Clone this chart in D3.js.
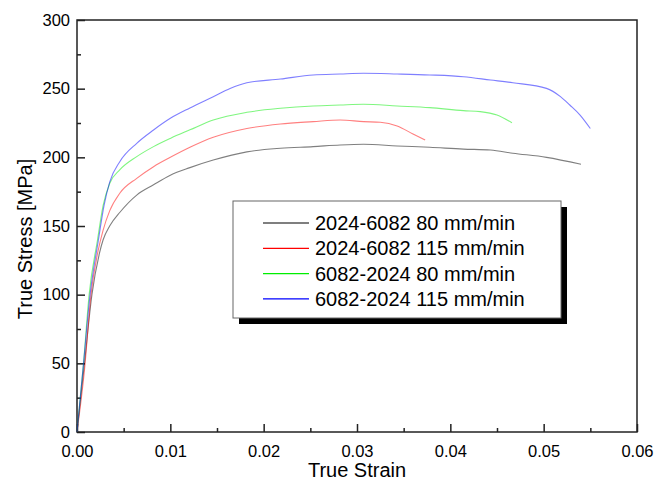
<!DOCTYPE html>
<html>
<head>
<meta charset="utf-8">
<script src="https://cdn.jsdelivr.net/npm/d3@7"></script>
<style>
  body { margin: 0; background: #fff; }
  text { font-family: "Liberation Sans", Arial, sans-serif; fill: #000; }
</style>
</head>
<body>
<svg id="chart" width="670" height="481"></svg>
<script>
'use strict'

// series names and colours
var names = ["2024-6082 80 mm/min", "2024-6082 115 mm/min", "6082-2024 80 mm/min", "6082-2024 115 mm/min"];
var colors = ["#000000", "#ff0000", "#00ee00", "#0000ff"];

// [strain, stress MPa]
var black80 = [[0,0],[0.0008,50],[0.0016,100],[0.0024,130],[0.0028,140],[0.0035,150],[0.0046,160],[0.0064,172.5],
  [0.0082,180],[0.0100,187],[0.0121,192.5],[0.0146,198],[0.0182,204],[0.0218,206.6],[0.0253,207.8],[0.0282,209],
  [0.0307,209.5],[0.0343,208.3],[0.0378,207.3],[0.0414,206],[0.0443,205.3],[0.0467,203],[0.0503,200],[0.0540,195]];
var red115 = [[0,0],[0.0008,45],[0.0015,100],[0.0022,130],[0.0028,147],[0.0035,161],[0.0046,174],[0.0064,184.7],
  [0.0082,193.2],[0.0100,200],[0.0121,207.3],[0.0146,214.6],[0.0182,221],[0.0218,224.3],[0.0253,226],[0.0282,227.2],
  [0.0307,226],[0.0325,225.5],[0.0343,222.8],[0.0360,217],[0.0373,212.6]];
var green80 = [[0,0],[0.0007,50],[0.0013,100],[0.0022,140],[0.0028,165],[0.0035,181],[0.0046,191],[0.0064,200.5],
  [0.0082,207.8],[0.0100,213.8],[0.0121,220],[0.0146,227.2],[0.0182,232.8],[0.0218,235.7],[0.0253,237.4],[0.0282,238.1],
  [0.0307,238.6],[0.0343,237.4],[0.0378,236.2],[0.0414,234],[0.0432,233.3],[0.0450,230.8],[0.0466,225.2]];
var blue115 = [[0,0],[0.0007,50],[0.0014,100],[0.0023,140],[0.0029,165],[0.0035,182],[0.0046,197],[0.0064,210.2],
  [0.0082,219.9],[0.0100,228.4],[0.0121,236],[0.0146,244.2],[0.0164,250.2],[0.0182,254.3],[0.0218,257],[0.0253,260],
  [0.0282,260.7],[0.0307,261.2],[0.0343,260.7],[0.0378,260],[0.0414,258.7],[0.0443,256.3],[0.0467,254.3],
  [0.0503,250.2],[0.0518,244.2],[0.0528,238.1],[0.0539,230.8],[0.0550,221]];
var series = [black80, red115, green80, blue115];

var xTicks = [0, 0.01, 0.02, 0.03, 0.04, 0.05, 0.06];
var yTicks = [0, 50, 100, 150, 200, 250, 300];

var margin = {left: 77, right: 33, top: 20, bottom: 49},
    width = 670 - margin.left - margin.right,
    height = 481 - margin.top - margin.bottom;

var svg = d3.select("#chart");
var g = svg.append("g").attr("transform", "translate(" + margin.left + "," + margin.top + ")");

var x = d3.scaleLinear().domain([0, 0.06]).range([0, width]);
var y = d3.scaleLinear().domain([0, 300]).range([height, 0]);

// minor ticks
var xMinor = d3.range(0.005, 0.06, 0.01);
var yMinor = d3.range(25, 300, 50);

g.append("g")
    .attr("transform", "translate(0," + height + ")")
    .call(d3.axisBottom(x).tickValues(xMinor).tickSize(-4).tickFormat(""))
    .call(a => a.select(".domain").remove())
    .selectAll("line").attr("stroke", "#222").attr("stroke-width", 1.5);

g.append("g")
    .call(d3.axisLeft(y).tickValues(yMinor).tickSize(-4).tickFormat(""))
    .call(a => a.select(".domain").remove())
    .selectAll("line").attr("stroke", "#222").attr("stroke-width", 1.5);

var xAxis = g.append("g")
    .attr("transform", "translate(0," + height + ")")
    .call(d3.axisBottom(x).tickValues(xTicks).tickSize(-8).tickPadding(13).tickFormat(d3.format(".2f")));
xAxis.select(".domain").remove();
xAxis.selectAll("line").attr("stroke", "#222").attr("stroke-width", 1.5);
xAxis.selectAll("text").attr("font-size", 16.5).attr("font-family", "Liberation Sans, Arial, sans-serif").attr("fill", "#000");

var yAxis = g.append("g")
    .call(d3.axisLeft(y).tickValues(yTicks).tickSize(-8).tickPadding(7).tickFormat(d3.format("d")));
yAxis.select(".domain").remove();
yAxis.selectAll("line").attr("stroke", "#222").attr("stroke-width", 1.5);
yAxis.selectAll("text").attr("font-size", 16.5).attr("font-family", "Liberation Sans, Arial, sans-serif").attr("fill", "#000");

// frame
g.append("rect")
    .attr("width", width).attr("height", height)
    .attr("fill", "none").attr("stroke", "#222").attr("stroke-width", 1.5);

var line = d3.line().curve(d3.curveMonotoneX).x(d => x(d[0])).y(d => y(d[1]));

g.selectAll("path.curve")
  .data(series)
  .enter().append("path")
    .attr("class", "curve")
    .attr("d", line)
    .attr("fill", "none")
    .attr("stroke", (d, i) => colors[i])
    .attr("stroke-opacity", 0.5)
    .attr("stroke-width", 1.1);

// axis titles
svg.append("text")
    .attr("x", margin.left + width / 2).attr("y", 477)
    .attr("text-anchor", "middle").attr("font-size", 20)
    .text("True Strain");

svg.append("text")
    .attr("transform", "translate(32,239) rotate(-90)")
    .attr("text-anchor", "middle").attr("font-size", 20)
    .text("True Stress [MPa]");

// legend
var lg = svg.append("g").attr("transform", "translate(233,201)");
lg.append("rect").attr("x", 6).attr("y", 6).attr("width", 328).attr("height", 117).attr("fill", "#000");
lg.append("rect").attr("width", 328).attr("height", 117).attr("fill", "#fff").attr("stroke", "#666").attr("stroke-width", 1);

var items = lg.selectAll("g.item")
  .data(names)
  .enter().append("g")
    .attr("class", "item")
    .attr("transform", (d, i) => "translate(0," + (22 + i * 25.3) + ")");
items.append("line")
    .attr("x1", 30).attr("x2", 76)
    .attr("stroke", (d, i) => colors[i]).attr("stroke-width", 1.2);
items.append("text")
    .attr("x", 82).attr("dy", "0.35em")
    .attr("font-size", 20)
    .text(d => d);
</script>
</body>
</html>
